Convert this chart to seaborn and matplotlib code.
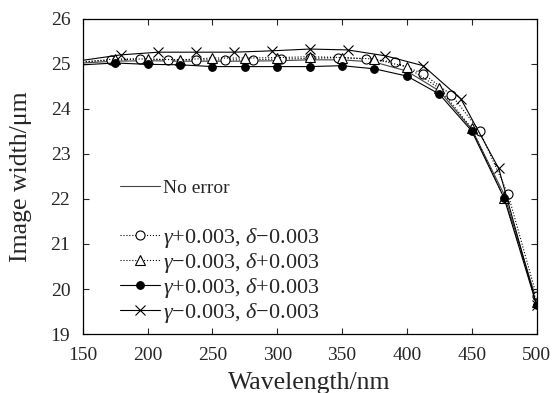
import matplotlib
matplotlib.use("Agg")
import matplotlib.pyplot as plt
import pandas as pd
import seaborn as sns

# =========================================
# DATA
# =========================================

wl_base = [150, 175, 200, 225, 250, 275, 300, 325, 350, 375, 400, 425, 450, 475, 500]
width_base = [25.02, 25.06, 25.07, 25.06, 25.06, 25.06, 25.07, 25.09, 25.09, 25.04, 24.84,
              24.40, 23.55, 22.10, 19.75]

wl_circle = [150, 171.9, 193.8, 215.6, 237.5, 259.4, 281.3, 303.1, 325.0, 346.9, 368.8,
             390.6, 412.5, 434.4, 456.3, 478.1, 500]
width_circle = [25.05, 25.08, 25.11, 25.09, 25.09, 25.09, 25.09, 25.11, 25.12, 25.14, 25.11,
                25.04, 24.78, 24.31, 23.50, 22.10, 19.85]

wl_tri = [150, 175, 200, 225, 250, 275, 300, 325, 350, 375, 400, 425, 450, 475, 500]
width_tri = [25.04, 25.11, 25.11, 25.09, 25.13, 25.13, 25.14, 25.16, 25.14, 25.11, 24.93,
             24.46, 23.57, 22.02, 19.72]

wl_dot = [150, 175, 200, 225, 250, 275, 300, 325, 350, 375, 400, 425, 450, 475, 500]
width_dot = [24.98, 25.02, 24.99, 24.98, 24.94, 24.94, 24.94, 24.94, 24.96, 24.89, 24.73,
             24.33, 23.51, 22.02, 19.65]

wl_cross = [150, 179.2, 208.3, 237.5, 266.7, 295.8, 325.0, 354.2, 383.3, 412.5, 441.7,
            470.8, 500]
width_cross = [25.08, 25.20, 25.26, 25.26, 25.26, 25.29, 25.33, 25.31, 25.18, 24.96, 24.22,
               22.68, 19.65]

labels = [
    "No error",
    "$\\gamma$+0.003, $\\delta$\u22120.003",
    "$\\gamma$\u22120.003, $\\delta$+0.003",
    "$\\gamma$+0.003, $\\delta$+0.003",
    "$\\gamma$\u22120.003, $\\delta$\u22120.003",
]

# =========================================
# STYLE
# =========================================

sns.set_style("ticks")
plt.rcParams["font.family"] = ["Liberation Serif", "DejaVu Serif"]
plt.rcParams["mathtext.fontset"] = "custom"
plt.rcParams["mathtext.rm"] = "Liberation Serif"
plt.rcParams["mathtext.it"] = "Liberation Serif:italic"

fig = plt.figure(figsize=(5.52, 3.93), dpi=100)
ax = fig.add_axes([0.15, 0.15, 0.822, 0.802])

series = [
    (wl_base, width_base, dict(color="#444444", linestyle="-", marker=None)),
    (wl_circle, width_circle, dict(color="black", linestyle=":", marker="o",
                                   markerfacecolor="white", markeredgecolor="black",
                                   markersize=6.5)),
    (wl_tri, width_tri, dict(color="black", linestyle=":", marker="^",
                             markerfacecolor="white", markeredgecolor="black",
                             markersize=6.5)),
    (wl_dot, width_dot, dict(color="black", linestyle="-", marker="o",
                             markerfacecolor="black", markeredgecolor="black",
                             markersize=5.5)),
    (wl_cross, width_cross, dict(color="black", linestyle="-", marker="x",
                                 markeredgecolor="black", markersize=7)),
]

for (x, y, style), label in zip(series, labels):
    df = pd.DataFrame({"Wavelength": x, "Width": y})
    sns.lineplot(
        data=df,
        x="Wavelength",
        y="Width",
        ax=ax,
        label=label,
        linewidth=0.8,
        markevery=list(range(1, len(x))),
        markeredgewidth=0.8,
        **style
    )

ax.set_xlim(150, 500)
ax.set_ylim(19, 26)
ax.set_xticks(range(150, 501, 50))
ax.set_yticks(range(19, 27))

ax.set_xlabel("Wavelength/nm", fontsize=18.5, labelpad=6)
ax.set_ylabel("Image width/\u03bcm", fontsize=18.5, labelpad=13)

ax.tick_params(direction="in", top=True, right=True, labelsize=14,
               length=4, width=0.8, pad=9)
for spine in ax.spines.values():
    spine.set_linewidth(0.9)
    spine.set_color("black")

# two legends: "No error" sits apart from the other four
handles, leg_labels = ax.get_legend_handles_labels()

leg1 = ax.legend(
    handles[:1], leg_labels[:1],
    loc="center left",
    bbox_to_anchor=(0.082, 0.463),
    frameon=False,
    fontsize=14,
    handlelength=2.06,
    handletextpad=0.15,
    borderpad=0,
    borderaxespad=0,
)
ax.add_artist(leg1)

ax.legend(
    handles[1:], leg_labels[1:],
    loc="lower left",
    bbox_to_anchor=(0.082, 0.03),
    frameon=False,
    fontsize=16,
    handlelength=1.8,
    handletextpad=0.14,
    labelspacing=0.04,
    borderpad=0,
    borderaxespad=0,
)

fig.savefig("out.png", dpi=100)
